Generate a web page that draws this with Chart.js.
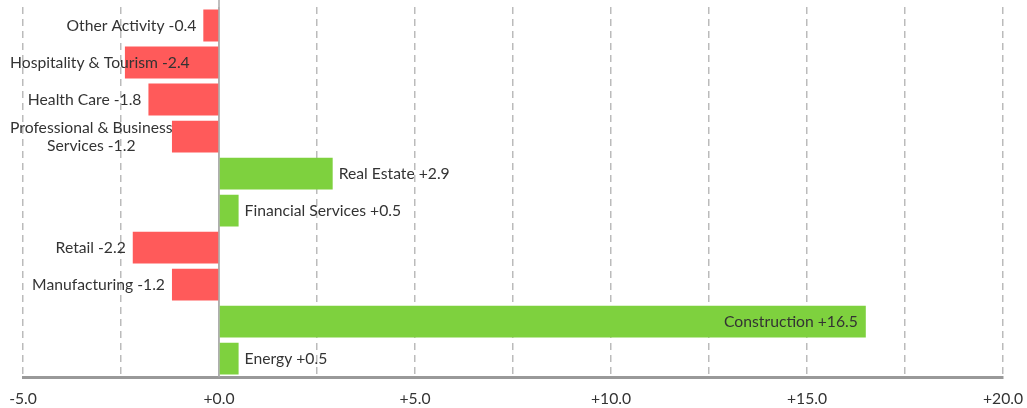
<!DOCTYPE html>
<html>
<head>
<meta charset="utf-8">
<script src="https://cdn.jsdelivr.net/npm/chart.js@4.4.1/dist/chart.umd.min.js"></script>
<style>
  html, body { margin: 0; padding: 0; background: #fff; }
  #wrap { width: 1027px; height: 408px; position: relative; }
</style>
</head>
<body>
<div id="wrap"><canvas id="sectorChart"></canvas></div>
<script>
// --- DATA ---
const sectors = [
    'Other Activity',
    'Hospitality & Tourism',
    'Health Care',
    ['Professional & Business', 'Services'],
    'Real Estate',
    'Financial Services',
    'Retail',
    'Manufacturing',
    'Construction',
    'Energy'
];
const changes = [-0.4, -2.4, -1.8, -1.2, 2.9, 0.5, -2.2, -1.2, 16.5, 0.5];
const axisMin = -5;
const axisMax = 20;

const RED = '#ff5a5a';
const GREEN = '#7ed13e';
const FONT = 'Lato, "Open Sans", sans-serif';

function fmt(v) {
    return (v < 0 ? '-' : '+') + Math.abs(v).toFixed(1);
}

// draws the "Sector +x.x" labels next to (or inside) each bar
const barLabels = {
    id: 'barLabels',
    afterDatasetsDraw(chart) {
        const ctx = chart.ctx;
        const meta = chart.getDatasetMeta(0);
        const area = chart.chartArea;
        const lineH = 18;
        ctx.save();
        ctx.font = '15.7px ' + FONT;
        ctx.fillStyle = '#333';
        ctx.textBaseline = 'middle';

        meta.data.forEach((bar, i) => {
            const v = changes[i];
            let lines = Array.isArray(sectors[i]) ? sectors[i].slice() : [sectors[i]];
            lines[lines.length - 1] += ' ' + fmt(v);
            const w = Math.max(...lines.map(l => ctx.measureText(l).width));
            const top = bar.y - (lines.length - 1) * lineH / 2;

            let left;
            if (v < 0) {
                left = bar.x - 7 - w;
                if (left < 10) left = 10;
            } else {
                left = bar.x + 6;
                if (left + w > area.right - 10) left = bar.x - 8 - w; // put it inside the bar
            }
            ctx.textAlign = 'center';
            lines.forEach((l, k) => ctx.fillText(l, left + w / 2, top + k * lineH));
        });
        ctx.restore();
    }
};

// solid zero line on top of the grid
const zeroLine = {
    id: 'zeroLine',
    beforeDatasetsDraw(chart) {
        const x = chart.scales.x.getPixelForValue(0);
        const ctx = chart.ctx;
        ctx.save();
        ctx.strokeStyle = '#aaa';
        ctx.lineWidth = 1.5;
        ctx.beginPath();
        ctx.moveTo(x, 0);
        ctx.lineTo(x, chart.chartArea.bottom);
        ctx.stroke();
        ctx.restore();
    }
};

const ctx = document.getElementById('sectorChart').getContext('2d');
new Chart(ctx, {
    type: 'bar',
    data: {
        labels: sectors,
        datasets: [{
            data: changes,
            backgroundColor: changes.map(v => v < 0 ? RED : GREEN),
            borderWidth: 0,
            barPercentage: 0.86,
            categoryPercentage: 1.0
        }]
    },
    options: {
        indexAxis: 'y',
        responsive: true,
        maintainAspectRatio: false,
        animation: false,
        layout: { padding: { left: 23, right: 24, top: 7, bottom: -12 } },
        plugins: {
            legend: { display: false },
            tooltip: { enabled: false }
        },
        scales: {
            x: {
                min: axisMin,
                max: axisMax,
                afterFit: (scale) => {
                    // end tick labels may hang over the edges; the layout padding covers them
                    scale.paddingLeft = 0;
                    scale.paddingRight = 0;
                },
                ticks: {
                    stepSize: 2.5,
                    autoSkip: false,
                    maxRotation: 0,
                    padding: 12,
                    color: '#333',
                    font: { family: FONT, size: 15.7 },
                    callback: (val) => (val % 5 === 0 ? fmt(val) : '')
                },
                grid: {
                    color: '#bbb',
                    lineWidth: 1.5,
                    drawTicks: false
                },
                border: {
                    display: true,
                    color: '#999',
                    width: 3,
                    dash: (c) => (c.tick && c.tick.value === 0 ? [] : [7, 5])
                }
            },
            y: {
                display: false
            }
        }
    },
    plugins: [zeroLine, barLabels]
});
</script>
</body>
</html>
